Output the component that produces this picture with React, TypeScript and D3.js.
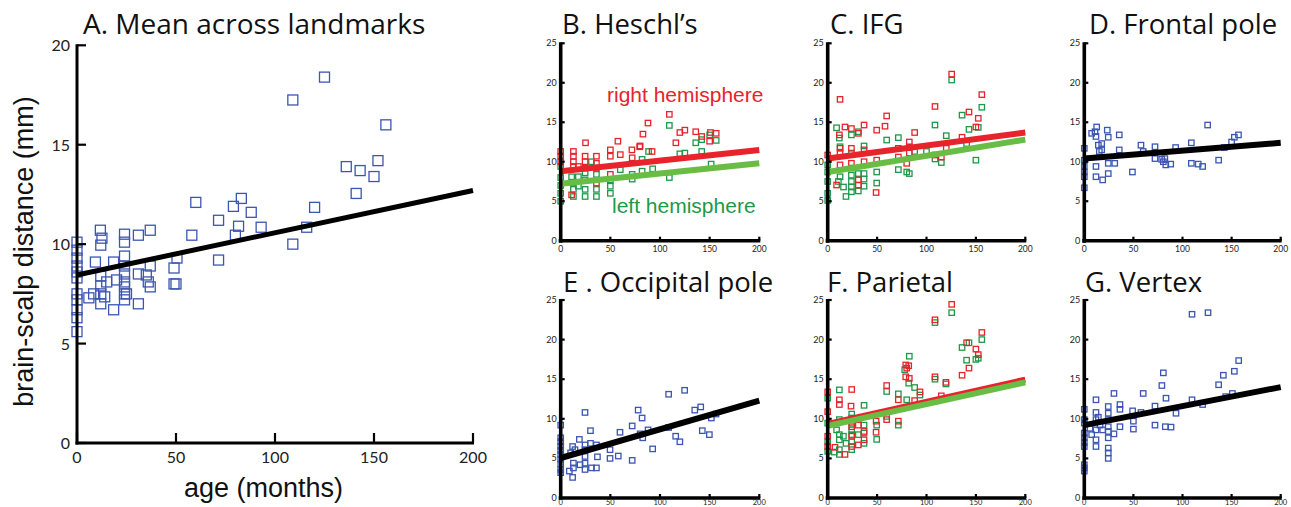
import React from 'react';
import * as d3 from 'd3';

// ---------- data ----------
const AGE_DOMAIN: [number, number] = [0, 200];
const X_TICKS = [0, 50, 100, 150, 200];
const A_Y_TICKS = [0, 5, 10, 15, 20];
const SMALL_Y_TICKS = [0, 5, 10, 15, 20, 25];

// [age (months), distance (mm)]
const meanA: [number, number][] = [
  [0, 10.1], [0, 9.7], [0, 9.3], [0, 8.9], [0, 8.6], [0, 8.3], [0, 7.5], [0, 7.2], [0, 6.7], [0, 6.3], [0, 5.6],
  [6, 7.3], [8.4, 7.5], [9.3, 9.1], [11.8, 10.7], [12.6, 10.3], [12, 9.95], [12, 8.4], [12, 7.9], [12, 7.5], [12, 7.0],
  [14, 7.35], [15, 8.1], [18.5, 6.7], [18.5, 9.1], [20, 8.2],
  [24, 10.5], [24, 10.1], [24, 9.4], [24, 8.9], [24, 8.5], [24, 8.1], [24, 7.85], [24, 7.5], [24, 7.2], [25, 7.5],
  [31, 10.45], [31, 8.5], [31, 7.0], [35, 8.45], [36, 8.1], [37, 10.7], [37, 8.9], [37, 7.85],
  [49, 8.8], [49, 8.0], [50, 8.0], [50.5, 9.3], [58, 10.45], [60, 12.1], [71.5, 11.2], [71.5, 9.2],
  [79, 11.9], [80, 10.45], [81.6, 10.9], [83, 12.3], [88, 11.6], [93, 10.85],
  [109, 17.25], [109, 10.0], [116, 10.85], [120, 11.85], [125, 18.4],
  [136, 13.9], [141, 12.55], [143, 13.7], [150, 13.4], [152, 14.2], [156, 16.0],
];
const meanAFit: [number, number] = [8.45, 12.7]; // value at age 0, value at age 200

const heschlRight: [number, number][] = [
  [0, 11.3], [0, 10.7], [0, 10.0], [12.8, 11.3], [12.8, 10.7], [12.8, 10.0], [12.8, 9.4], [17.8, 9.4], [11, 5.8],
  [25, 12.4], [24.6, 10.7], [24.6, 10.0], [24.6, 9.2], [36, 10.7], [36, 9.8], [36, 9.2], [36, 7.3],
  [50, 11.5], [50, 10.7], [50, 8.4], [57.6, 12.6], [60, 10.9], [71.7, 11.5], [72, 10.5], [79.5, 11.9], [80, 12.0],
  [82.8, 13.5], [87.9, 14.9], [92, 11.3], [109.4, 16.0], [116, 12.4], [120, 13.7], [125, 14.0], [136, 13.8],
  [142, 13.2], [150, 12.6], [150.8, 13.7], [156.6, 13.6],
];
const heschlLeft: [number, number][] = [
  [0, 9.4], [0, 8.0], [0, 7.0], [0, 6.0], [0, 5.0], [11, 8.1], [12.8, 7.3], [12.8, 6.5], [12.8, 5.6],
  [17.8, 8.1], [17.8, 6.9], [24.6, 8.6], [24.6, 7.7], [24.6, 6.5], [24.6, 5.6], [31, 10.0], [36, 8.4], [36, 6.5], [36, 5.6],
  [50, 7.7], [50, 6.9], [50, 6.0], [60, 9.0], [72, 8.4], [72, 7.8], [82, 8.8], [82, 10.3], [88.5, 11.3], [92.6, 9.1],
  [109.4, 14.6], [109.4, 8.0], [120, 11.0], [125, 11.1], [136, 12.4], [142, 11.3], [142, 12.8], [150, 13.4],
  [151.5, 9.7], [156.6, 12.7],
];
const heschlRightFit: [number, number] = [8.8, 11.5];
const heschlLeftFit: [number, number] = [7.2, 9.8];

const ifgRight: [number, number][] = [
  [0, 10.85], [12.5, 17.9], [11.8, 13.4], [12.5, 11.7], [12.5, 11.1], [12.5, 9.6], [9, 7.05], [17.5, 14.4],
  [24, 14.2], [24, 11.7], [24, 9.8], [31, 13.6], [31, 7.7], [31, 7.05], [36.8, 14.65], [36.8, 11.5], [36.8, 10.0],
  [49.6, 14.0], [49.6, 10.2], [49, 6.1], [58, 14.5], [59.7, 15.8], [71.5, 11.7], [71.5, 10.6], [80, 9.8],
  [82.6, 12.5], [82.6, 11.1], [88, 13.7], [108.6, 17.0], [108.6, 10.85], [115, 10.6], [120, 11.7], [125.5, 21.1],
  [136, 13.1], [143, 16.3], [150, 14.4], [152.4, 15.5], [156, 18.5],
];
const ifgLeft: [number, number][] = [
  [0, 9.6], [0, 8.7], [0, 7.5], [0, 6.0], [0, 5.1], [9, 14.3], [11.8, 13.0], [12.5, 11.9], [12.5, 8.1], [10.8, 7.5],
  [16, 6.8], [18.5, 5.6], [24, 13.4], [24, 11.1], [24, 9.2], [24, 8.3], [24, 7.5], [24, 6.8], [24, 6.2],
  [31, 13.8], [31, 8.5], [31, 6.3], [36.8, 12.0], [36.8, 8.5], [36.8, 7.8], [36.8, 6.9], [49.6, 8.7], [49.6, 7.3],
  [59.7, 12.75], [71.5, 13.05], [71.5, 9.0], [80, 8.7], [82.6, 8.5], [82.6, 11.9], [88, 11.3], [100, 11.3],
  [108.6, 14.65], [108.6, 10.35], [115, 9.9], [120, 13.3], [125.5, 20.35], [136, 15.9], [140.6, 12.3], [143, 14.1],
  [150, 10.2], [152.4, 14.35], [156, 16.9],
];
const ifgRightFit: [number, number] = [10.4, 13.7];
const ifgLeftFit: [number, number] = [8.7, 12.8];

const frontalPole: [number, number][] = [
  [0, 11.7], [0, 10.2], [0, 9.4], [0, 8.7], [0, 8.1], [0, 6.7], [7.5, 13.6], [10.9, 13.8], [11.9, 13.2], [12.6, 14.4],
  [11.9, 9.4], [11.9, 8.1], [14.3, 12.1], [15.3, 11.3], [17.7, 12.3], [17.7, 11.5], [18.7, 7.7], [23.4, 14.0],
  [24.4, 13.1], [24.4, 9.8], [24.4, 8.5], [31, 9.8], [35.6, 13.4], [35.6, 11.5], [49, 8.7], [57.7, 12.1], [60, 11.3],
  [72, 11.9], [72, 10.4], [78.8, 10.3], [80.5, 10.0], [82, 10.4], [83, 9.6], [88, 9.7], [93, 11.8],
  [109, 12.4], [109, 9.8], [116, 9.7], [120.5, 9.4], [125.6, 14.65], [136.8, 10.2], [142.6, 11.8], [150, 12.5],
  [152.8, 13.1], [157, 13.4],
];
const frontalPoleFit: [number, number] = [10.4, 12.4];

const occipitalPole: [number, number][] = [
  [0, 9.2], [0, 7.6], [0, 7.1], [0, 6.5], [0, 6.0], [0, 5.5], [0, 4.9], [0, 4.3], [0, 3.6], [0, 3.2],
  [8.7, 3.4], [10, 5.7], [12, 6.5], [12.8, 4.4], [12, 2.6], [14.4, 6.1], [12.8, 3.8], [18.8, 7.4], [19.5, 4.2],
  [24.5, 10.8], [24.5, 6.7], [24.5, 6.1], [24.5, 5.25], [24.5, 4.4], [24.5, 3.6], [30, 8.5], [30, 6.9], [31, 3.8],
  [36, 6.7], [36, 3.8], [37, 5.2], [49.7, 6.1], [49.7, 5.0], [58, 5.3], [59.7, 8.3], [72, 4.75], [72, 9.1],
  [78, 11.1], [80, 8.1], [82, 10.1], [82.6, 7.6], [88, 8.6], [92.6, 6.2], [108.7, 13.1], [108.7, 8.9],
  [115.8, 7.8], [120, 7.1], [124.8, 13.6], [135, 11.1], [141, 11.5], [142.6, 8.5], [149.7, 8.0], [151.7, 10.1],
  [156.4, 10.6],
];
const occipitalPoleFit: [number, number] = [5.05, 12.3];

const parietalRight: [number, number][] = [
  [0, 13.4], [0, 10.9], [0, 7.8], [0, 6.5], [11.8, 12.4], [11.8, 11.8], [7.4, 6.4], [17.5, 5.5], [24.3, 13.7],
  [23.6, 11.6], [24.3, 9.0], [24.3, 7.8], [24.3, 6.5], [31, 9.2], [31, 6.7], [36.8, 8.4], [36.8, 7.35],
  [49, 9.7], [49, 8.3], [59.7, 14.2], [59.7, 9.9], [71.5, 12.4], [71.5, 9.7], [79, 16.8], [79, 15.3], [80, 16.4],
  [82, 16.7], [82.6, 15.1], [88, 12.3], [93.4, 13.4], [108.6, 22.5], [108.6, 15.3], [115, 12.9], [119.7, 14.6],
  [125.5, 24.45], [136, 15.5], [140.6, 19.6], [143, 16.4], [150, 18.8], [152.4, 18.1], [156, 20.9],
];
const parietalLeft: [number, number][] = [
  [0, 12.6], [0, 9.45], [0, 7.1], [0, 5.9], [6.7, 5.8], [11.8, 13.65], [11.8, 9.9], [9, 8.6], [11.8, 8.0],
  [11.8, 7.35], [11.8, 6.1], [11.8, 5.5], [15.9, 7.8], [18.5, 6.9], [24.3, 10.6], [24.3, 10.1], [24.3, 9.45],
  [24.3, 8.6], [24.3, 8.0], [24.3, 7.1], [24.3, 6.1], [31, 9.9], [31, 8.0], [36.8, 11.7], [36.8, 9.2], [36.8, 8.2],
  [36.8, 6.9], [49.6, 9.2], [49.6, 7.4], [59.7, 13.45], [59.7, 10.3], [71.5, 13.15], [71.5, 9.2], [80, 12.4],
  [78, 16.2], [82.6, 17.9], [82, 14.5], [88, 13.95], [93.4, 13.0], [108.6, 22.15], [108.6, 15.0], [119.7, 14.4],
  [125.5, 23.4], [136, 19.0], [143, 19.6], [140.6, 17.4], [150, 17.5], [152.4, 17.65], [156, 20.0],
];
const parietalRightFit: [number, number] = [9.35, 14.95];
const parietalLeftFit: [number, number] = [9.1, 14.6];

const vertex: [number, number][] = [
  [0, 11.2], [0, 9.9], [0, 9.45], [0, 8.2], [0, 7.6], [0, 7.0], [0, 6.5], [0, 4.2], [0, 3.8], [0, 3.4],
  [5.8, 8.8], [7.5, 8.0], [11.9, 12.4], [11.9, 10.8], [11.9, 9.9], [11.9, 8.6], [11.9, 7.35], [11.9, 6.5],
  [14.3, 10.2], [16, 9.2], [18.7, 8.6], [24.4, 11.55], [24.4, 10.7], [24.4, 9.9], [24.4, 9.0], [24.4, 8.4],
  [24.4, 7.6], [24.4, 6.3], [24.4, 5.7], [24.4, 5.0], [30.2, 13.2], [30.2, 8.1], [36.3, 11.8], [36.3, 11.2],
  [36.3, 9.0], [49.2, 11.0], [50, 9.7], [50, 8.7], [57.7, 10.8], [60, 13.2], [72, 11.6], [72, 9.2], [79, 14.2],
  [80.5, 15.8], [82.5, 9.0], [83.2, 12.6], [88.3, 8.95], [93.4, 10.7], [109.7, 23.2], [109.7, 12.4],
  [120.5, 11.8], [126, 23.4], [136.8, 14.3], [141.6, 15.5], [144, 12.8], [150.8, 13.2], [152.8, 16.0],
  [157.2, 17.35],
];
const vertexFit: [number, number] = [9.2, 14.0];

// ---------- styling ----------
const BLUE = '#3c55b2';
const RED = '#e8232b';
const GREEN_PT = '#1c9a4a';
const GREEN_LINE = '#69bd45';
const TITLE_FONT = '"Open Sans", Lato, sans-serif';
const TICK_FONT = 'Lato, "Open Sans", sans-serif';
const ARIAL = '"Liberation Sans", Arial, sans-serif';

type Series = { pts: [number, number][]; fit: [number, number]; ptColor: string; lineColor: string };

type PanelSpec = {
  title: string;
  x0: number; x1: number; yTop: number; yBot: number;
  series: Series[];
  titleX: number;
  titleY: number;
  labelDy: number;
  labelSize: number;
};

function SmallPanel({ spec }: { spec: PanelSpec }) {
  const x = d3.scaleLinear().domain(AGE_DOMAIN).range([spec.x0, spec.x1]);
  const y = d3.scaleLinear().domain([0, 25]).range([spec.yBot, spec.yTop]);
  const s = 5.4;
  const line = d3.line<[number, number]>().x(d => x(d[0])).y(d => y(d[1]));
  const ptsOrder = [...spec.series].reverse();
  return (
    <g>
      <text x={spec.titleX} y={spec.titleY} fontFamily={TITLE_FONT} fontSize={27.5} fill="#111">{spec.title}</text>
      {ptsOrder.map((se, i) => (
        <g key={'p' + i}>
          {se.pts.map((p, j) => (
            <rect key={j} x={x(p[0]) - s / 2} y={y(p[1]) - s / 2} width={s} height={s}
              fill="none" stroke={se.ptColor} strokeWidth={1.3} />
          ))}
        </g>
      ))}
      {spec.series.map((se, i) => (
        <path key={'l' + i}
          d={line([[AGE_DOMAIN[0], se.fit[0]], [AGE_DOMAIN[1], se.fit[1]]]) || ''}
          stroke={se.lineColor} strokeWidth={6} fill="none" />
      ))}
      <line x1={x(0)} x2={x(0)} y1={y(25) - 1} y2={y(0) + 2} stroke="#000" strokeWidth={3.6} />
      <line x1={x(0) - 2} x2={x(200) + 1} y1={y(0)} y2={y(0)} stroke="#000" strokeWidth={3.6} />
      {SMALL_Y_TICKS.map(t => (
        <g key={'yt' + t}>
          <line x1={x(0)} x2={x(0) + 4} y1={y(t)} y2={y(t)} stroke="#000" strokeWidth={2.2} />
          <text x={x(0) - 4} y={y(t) + 3} textAnchor="end" fontFamily={TICK_FONT} fontSize={9} fill="#222">{t}</text>
        </g>
      ))}
      {X_TICKS.map(t => (
        <g key={'xt' + t}>
          <line x1={x(t)} x2={x(t)} y1={y(0)} y2={y(0) - 4} stroke="#000" strokeWidth={2.2} />
          <text x={x(t)} y={y(0) + spec.labelDy} textAnchor="middle" fontFamily={TICK_FONT} fontSize={spec.labelSize} fill="#222">{t}</text>
        </g>
      ))}
    </g>
  );
}

function PanelA() {
  const x = d3.scaleLinear().domain(AGE_DOMAIN).range([77, 473]);
  const y = d3.scaleLinear().domain([0, 20]).range([443, 45.3]);
  const s = 10;
  const line = d3.line<[number, number]>().x(d => x(d[0])).y(d => y(d[1]));
  return (
    <g>
      <text x={83} y={33.5} fontFamily={TITLE_FONT} fontSize={28} fill="#111">A. Mean across landmarks</text>
      {meanA.map((p, j) => (
        <rect key={j} x={x(p[0]) - s / 2} y={y(p[1]) - s / 2} width={s} height={s}
          fill="none" stroke={BLUE} strokeWidth={1.3} />
      ))}
      <path d={line([[0, meanAFit[0]], [200, meanAFit[1]]]) || ''} stroke="#000" strokeWidth={5} fill="none" />
      <line x1={x(0)} x2={x(0)} y1={y(20) - 1} y2={y(0) + 1.5} stroke="#000" strokeWidth={3} />
      <line x1={x(0) - 1.5} x2={x(200) + 1} y1={y(0)} y2={y(0)} stroke="#000" strokeWidth={3} />
      {A_Y_TICKS.map(t => (
        <g key={'yt' + t}>
          <line x1={x(0)} x2={x(0) + 9} y1={y(t)} y2={y(t)} stroke="#000" strokeWidth={2.2} />
          <text x={70} y={y(t) + 6} textAnchor="end" fontFamily={TICK_FONT} fontSize={16} fill="#222">{t}</text>
        </g>
      ))}
      {X_TICKS.map(t => (
        <g key={'xt' + t}>
          <line x1={x(t)} x2={x(t)} y1={y(0)} y2={y(0) - 10} stroke="#000" strokeWidth={2.2} />
          <text x={x(t)} y={463} textAnchor="middle" fontFamily={TICK_FONT} fontSize={16} fill="#222">{t}</text>
        </g>
      ))}
      <text x={263.5} y={497} textAnchor="middle" fontFamily={ARIAL} fontSize={27} fill="#111">age (months)</text>
      <text transform="translate(33,251.5) rotate(-90)" textAnchor="middle" fontFamily={ARIAL} fontSize={27} fill="#111">brain-scalp distance (mm)</text>
    </g>
  );
}

const panels: PanelSpec[] = [
  { title: "B. Heschl\u2019s", x0: 560.7, x1: 759.3, yTop: 43.3, yBot: 240.7, titleX: 562, titleY: 34, labelDy: 11, labelSize: 8.5,
    series: [
      { pts: heschlRight, fit: heschlRightFit, ptColor: RED, lineColor: RED },
      { pts: heschlLeft, fit: heschlLeftFit, ptColor: GREEN_PT, lineColor: GREEN_LINE },
    ] },
  { title: 'C. IFG', x0: 827.7, x1: 1025.3, yTop: 43.3, yBot: 240.7, titleX: 830, titleY: 34, labelDy: 11, labelSize: 8.5,
    series: [
      { pts: ifgRight, fit: ifgRightFit, ptColor: RED, lineColor: RED },
      { pts: ifgLeft, fit: ifgLeftFit, ptColor: GREEN_PT, lineColor: GREEN_LINE },
    ] },
  { title: 'D. Frontal pole', x0: 1084.3, x1: 1280.7, yTop: 43.3, yBot: 240.7, titleX: 1089, titleY: 34, labelDy: 11, labelSize: 8.5,
    series: [{ pts: frontalPole, fit: frontalPoleFit, ptColor: BLUE, lineColor: '#000' }] },
  { title: 'E . Occipital pole', x0: 560.7, x1: 759.3, yTop: 300, yBot: 498, titleX: 563, titleY: 292, labelDy: 6.8, labelSize: 7.5,
    series: [{ pts: occipitalPole, fit: occipitalPoleFit, ptColor: BLUE, lineColor: '#000' }] },
  { title: 'F. Parietal', x0: 827.7, x1: 1025.3, yTop: 300, yBot: 498, titleX: 827, titleY: 292, labelDy: 6.8, labelSize: 7.5,
    series: [
      { pts: parietalRight, fit: parietalRightFit, ptColor: RED, lineColor: RED },
      { pts: parietalLeft, fit: parietalLeftFit, ptColor: GREEN_PT, lineColor: GREEN_LINE },
    ] },
  { title: 'G. Vertex', x0: 1084.3, x1: 1280.7, yTop: 300, yBot: 498, titleX: 1085, titleY: 292, labelDy: 6.8, labelSize: 7.5,
    series: [{ pts: vertex, fit: vertexFit, ptColor: BLUE, lineColor: '#000' }] },
];

export default function App() {
  return (
    <div style={{ position: 'absolute', left: 0, top: 0 }}>
      <svg width={1291} height={507} viewBox="0 0 1291 507" style={{ display: 'block', background: '#fff' }}>
        <rect x={0} y={0} width={1291} height={507} fill="#fff" />
        <PanelA />
        {panels.map((p, i) => <SmallPanel key={i} spec={p} />)}
        <text x={607} y={102} fontFamily={ARIAL} fontSize={21} fill={RED}>right hemisphere</text>
        <text x={612} y={213} fontFamily={ARIAL} fontSize={21} fill={GREEN_PT}>left hemisphere</text>
      </svg>
    </div>
  );
}
